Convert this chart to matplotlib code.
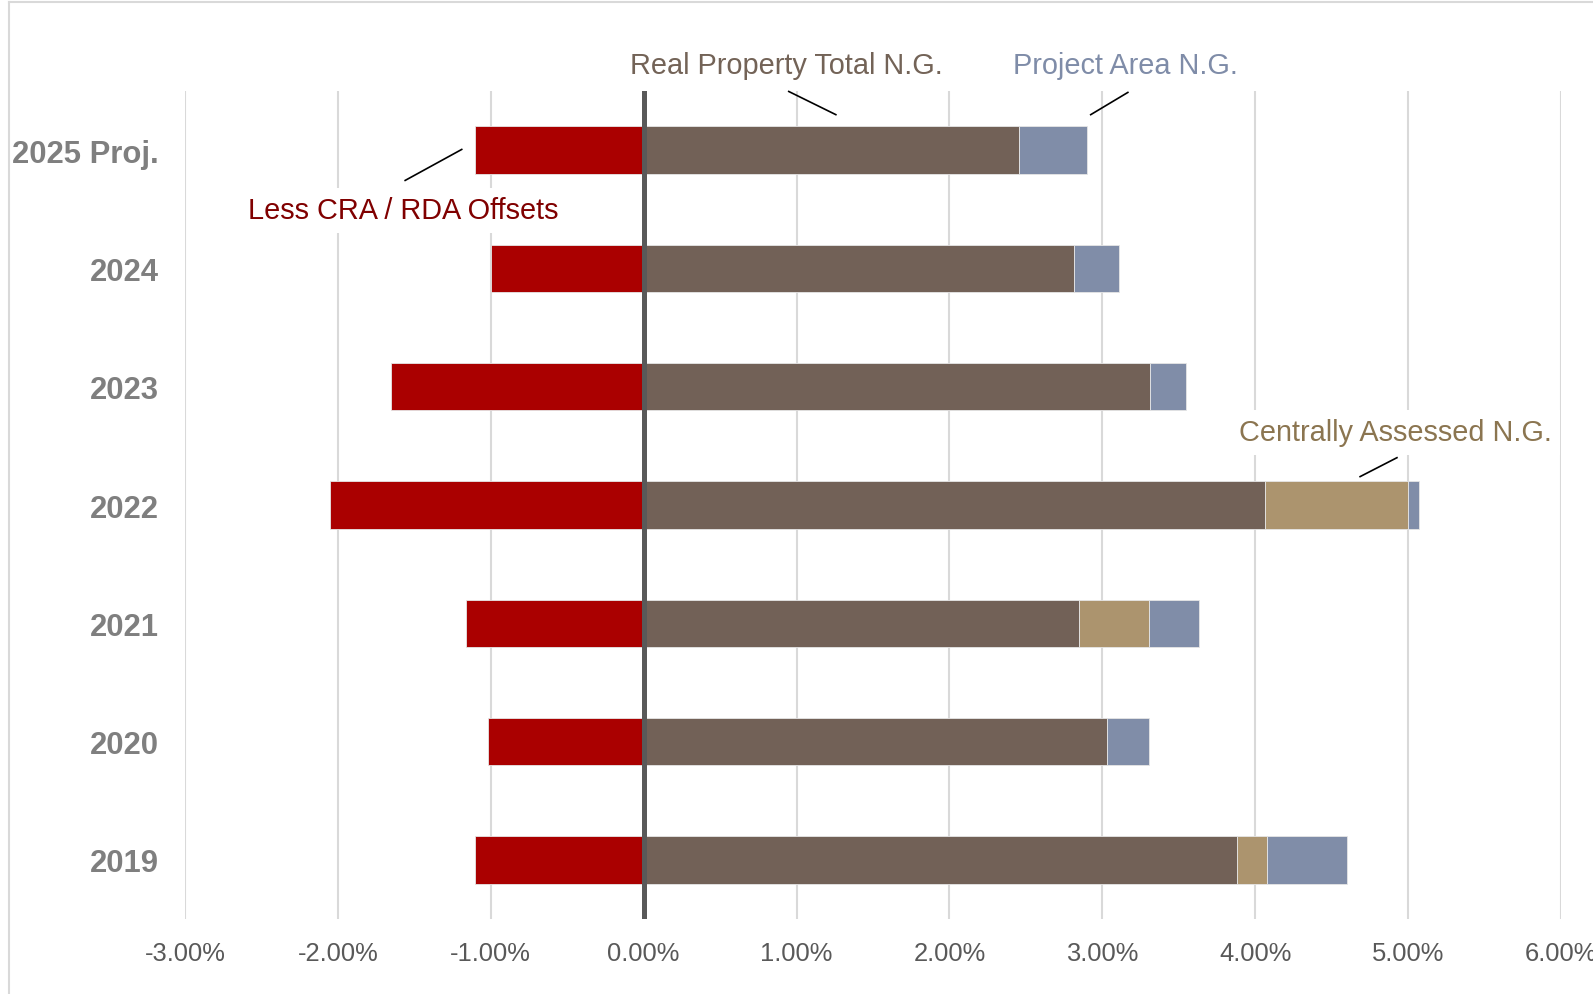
import matplotlib
matplotlib.use("Agg")
import matplotlib.pyplot as plt
from matplotlib.lines import Line2D
from matplotlib.ticker import FuncFormatter

plt.rcParams['font.family'] = ['Liberation Sans', 'DejaVu Sans']

# Data (percent)
categories = ["2019", "2020", "2021", "2022", "2023", "2024", "2025 Proj."]
cra_offsets = [-1.10, -1.02, -1.165, -2.05, -1.655, -1.00, -1.10]
real_property = [3.88, 3.03, 2.85, 4.065, 3.31, 2.815, 2.455]
centrally_assessed = [0.20, 0.00, 0.455, 0.935, 0.00, 0.00, 0.00]
project_area = [0.52, 0.275, 0.33, 0.07, 0.24, 0.295, 0.445]
x_ticks = [-3, -2, -1, 0, 1, 2, 3, 4, 5, 6]

c_red = '#AA0000'
c_brown = '#726157'
c_tan = '#AC946E'
c_blue = '#808DA8'

fig = plt.figure(figsize=(15.93, 9.95), dpi=100)
ax = fig.add_axes([185/1593, 1-920/995, (1561-185)/1593, (920-92)/995])

y = list(range(len(categories)))
h = 0.40
ax.barh(y, cra_offsets, height=h, color=c_red, zorder=3, edgecolor='#e6e6e6', linewidth=0.6)
ax.barh(y, real_property, height=h, color=c_brown, zorder=3, edgecolor='#e6e6e6', linewidth=0.6)
left2 = [a for a in real_property]
ax.barh(y, centrally_assessed, left=left2, height=h, color=c_tan, zorder=3, edgecolor='#e6e6e6', linewidth=0.6)
left3 = [a + b for a, b in zip(real_property, centrally_assessed)]
ax.barh(y, project_area, left=left3, height=h, color=c_blue, zorder=3, edgecolor='#e6e6e6', linewidth=0.6)

ax.axvline(0, color='#595959', lw=3.6, zorder=5)

ax.set_xlim(-3, 6)
ax.set_ylim(-0.5, len(categories) - 0.5)
ax.set_xticks(x_ticks)
ax.xaxis.set_major_formatter(FuncFormatter(lambda v, p: f"{v:.2f}%"))
ax.set_yticks(y)
ax.set_yticklabels(categories)
ax.grid(axis='x', color='#d9d9d9', lw=1.5, zorder=0)
ax.set_axisbelow(True)
for s in ax.spines.values():
    s.set_visible(False)
ax.tick_params(axis='x', length=0, pad=16, labelsize=18.4, labelcolor='#595959')
ax.tick_params(axis='y', length=0, pad=19, labelsize=22.3, labelcolor='#7f7f7f')
for t in ax.get_yticklabels():
    t.set_fontweight('bold')

# Annotations
fs = 20.8
ax.text(0.936, 6.716, "Real Property Total N.G.", color='#736357', fontsize=fs,
        ha='center', va='center', clip_on=False, zorder=6)
ax.plot([0.949, 1.257], [6.496, 6.30], color='black', lw=1.2, clip_on=False, zorder=6)

ax.text(3.152, 6.716, "Project Area N.G.", color='#7F8CA8', fontsize=fs,
        ha='center', va='center', clip_on=False, zorder=6)
ax.plot([3.167, 2.924], [6.488, 6.30], color='black', lw=1.2, clip_on=False, zorder=6)

ax.text(-1.571, 5.491, "Less CRA / RDA Offsets", color='#800000', fontsize=fs,
        ha='center', va='center', zorder=6,
        bbox=dict(facecolor='white', edgecolor='none', pad=6))
ax.plot([-1.56, -1.19], [5.744, 6.006], color='black', lw=1.2, zorder=6)

ax.text(4.915, 3.616, "Centrally Assessed N.G.", color='#8B7550', fontsize=fs,
        ha='center', va='center', zorder=6,
        bbox=dict(facecolor='white', edgecolor='none', pad=6))
ax.plot([4.927, 4.686], [3.40, 3.24], color='black', lw=1.2, zorder=6)

# chart frame (left and top visible)
fig.add_artist(Line2D([9/1593, 9/1593], [0, 1-3/995], color='#d9d9d9', lw=1.5))
fig.add_artist(Line2D([9/1593, 1], [1-3/995, 1-3/995], color='#d9d9d9', lw=1.5))

fig.savefig("out.png", dpi=100)
